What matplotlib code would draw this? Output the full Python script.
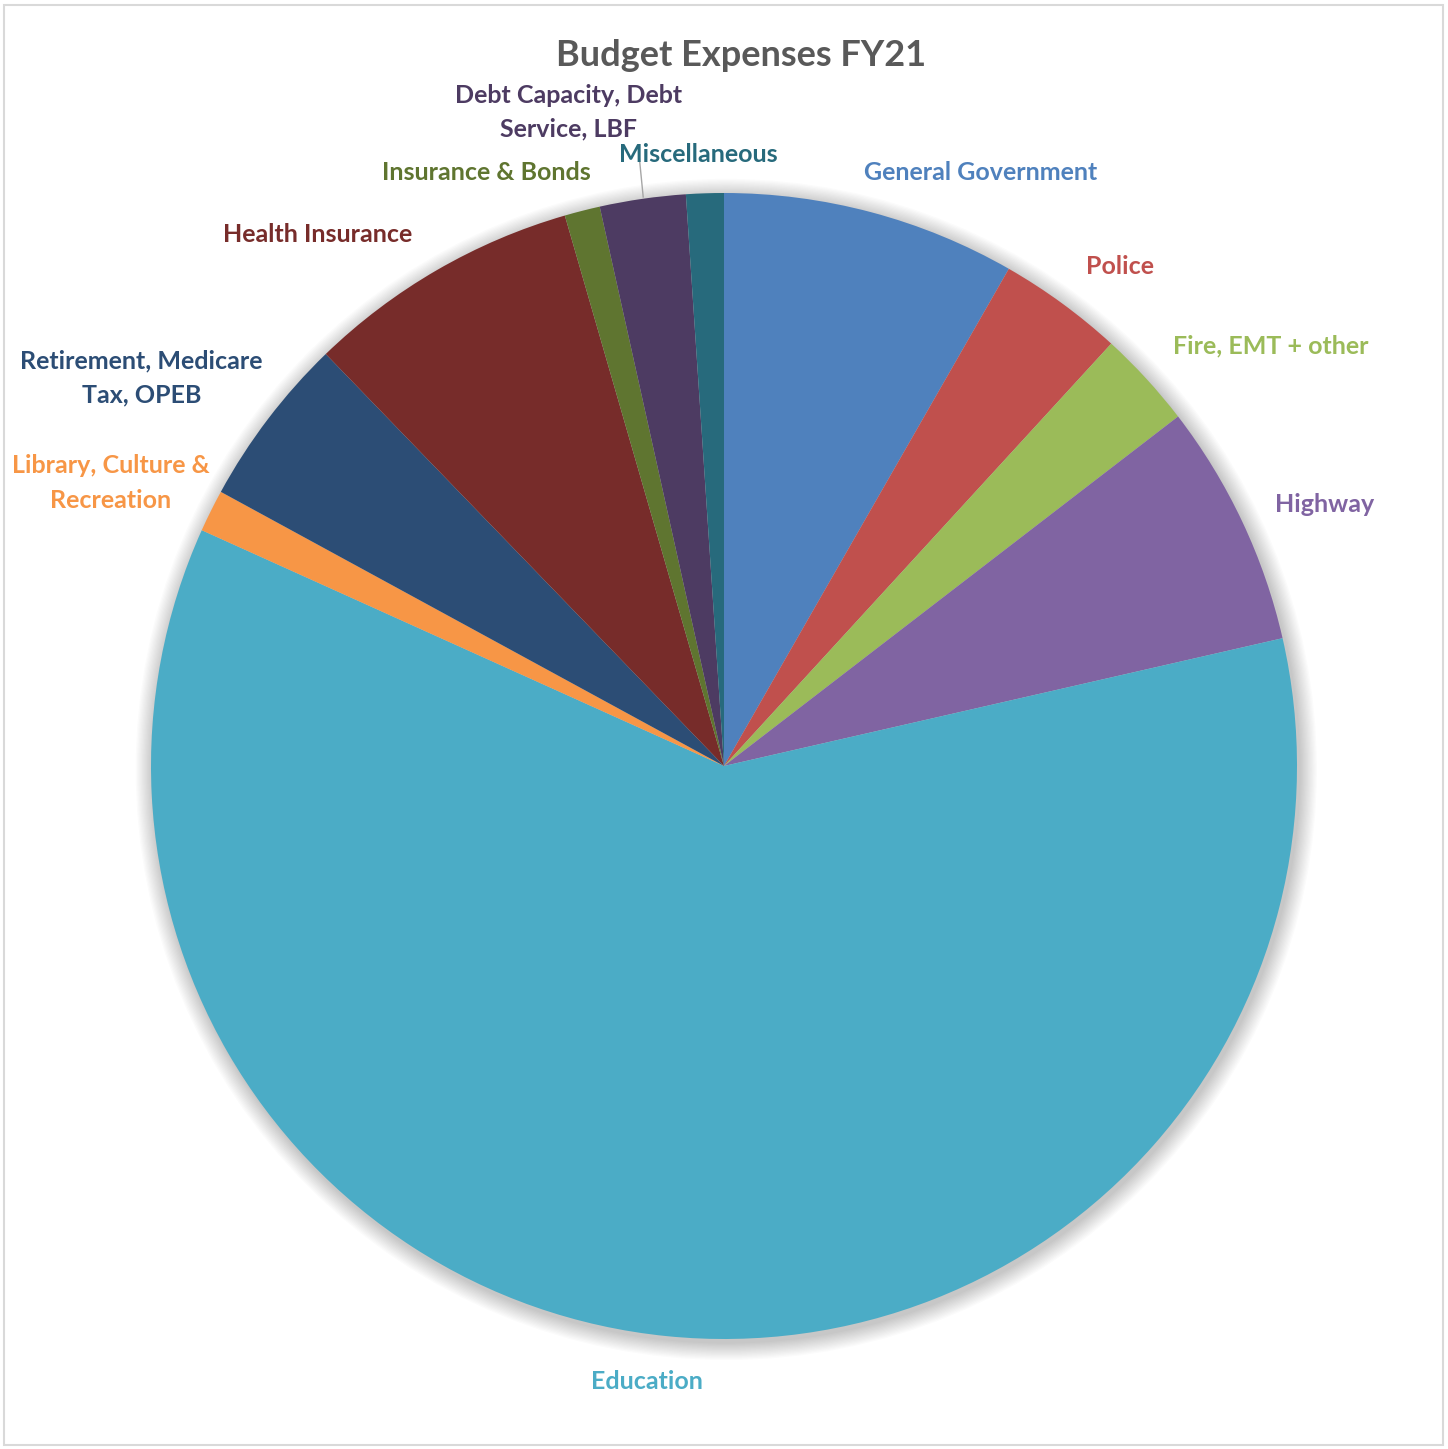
import matplotlib
matplotlib.use("Agg")
import matplotlib.pyplot as plt
from matplotlib.patches import Rectangle, Circle

categories = ["General Government", "Police", "Fire, EMT + other", "Highway", "Education",
              "Library, Culture &\nRecreation", "Retirement, Medicare\nTax, OPEB",
              "Health Insurance", "Insurance & Bonds", "Debt Capacity, Debt\nService, LBF",
              "Miscellaneous"]
values = [8.28, 3.53, 2.75, 6.86, 60.33, 1.19, 4.83, 7.75, 1.00, 2.42, 1.06]
colors = ["#4F81BD", "#C0504D", "#9BBB59", "#8064A2", "#4BACC6", "#F79646",
          "#2C4D75", "#772C2A", "#5F7530", "#4D3B62", "#276A7C"]
label_pos = [(0.447, 1.035), (0.691, 0.872), (0.955, 0.733), (1.049, 0.457),
             (-0.134, -1.075), (-1.070, 0.494), (-1.017, 0.677), (-0.709, 0.928),
             (-0.415, 1.036), (-0.271, 1.141), (-0.045, 1.068)]

plt.rcParams['font.family'] = ['Lato', 'DejaVu Sans']

W, H = 1448, 1449
fig = plt.figure(figsize=(W / 100, H / 100), dpi=100)
fig.patches.append(Rectangle((4 / W, 4 / H), 1 - 9 / W, 1 - 9 / H, transform=fig.transFigure,
                             fill=False, edgecolor="#D9D9D9", linewidth=1.5))

cx, cy, R = 724, 766, 573
ax = fig.add_axes([(cx - R) / W, (H - cy - R) / H, 2 * R / W, 2 * R / H])
ax.set_xlim(-1, 1)
ax.set_ylim(-1, 1)
ax.set_aspect('equal')
ax.axis('off')

# soft shadow
for i in range(14):
    ax.add_patch(Circle((0.004, -0.006), 1.0 + 0.0022 * (14 - i), color="black",
                        alpha=0.016, linewidth=0, zorder=0, clip_on=False))

wedges, _ = ax.pie(values, colors=colors, startangle=90, counterclock=False, radius=1,
                   wedgeprops=dict(linewidth=0), frame=False)
for w in wedges:
    w.set_zorder(2)
ax.set_xlim(-1, 1)
ax.set_ylim(-1, 1)

for name, col, (x, y) in zip(categories, colors, label_pos):
    ax.text(x, y, name, color=col, fontsize=18, fontweight='bold', ha='center', va='center',
            linespacing=1.6, zorder=5)

ax.plot([-0.150, -0.141], [1.084, 0.993], color="#A6A6A6", linewidth=1, zorder=4, clip_on=False)

fig.text(741 / W, 1 - 55 / H, "Budget Expenses FY21", color="#595959", fontsize=26,
         fontweight='bold', ha='center', va='center')

fig.savefig("out.png", dpi=100)
